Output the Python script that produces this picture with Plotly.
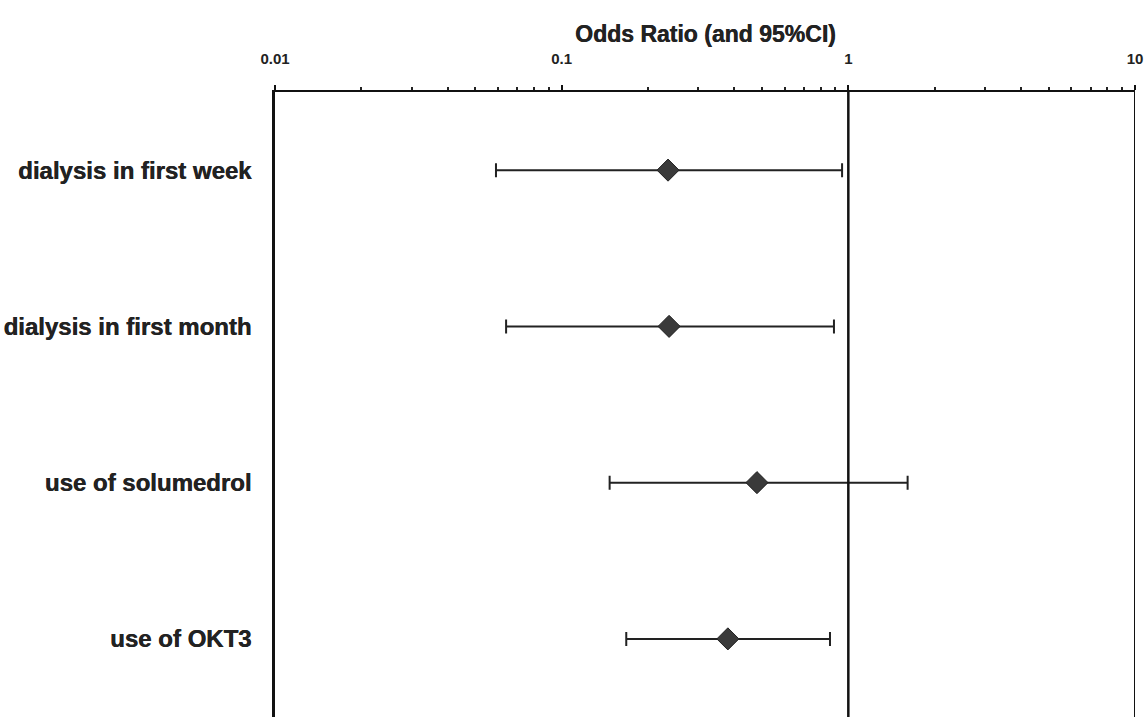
import plotly.graph_objects as go

# Forest plot: odds ratios with 95% confidence intervals
factors = ["dialysis in first week", "dialysis in first month", "use of solumedrol", "use of OKT3"]
odds_ratio = [0.235, 0.237, 0.480, 0.380]
ci_low = [0.059, 0.064, 0.147, 0.168]
ci_high = [0.951, 0.891, 1.61, 0.863]
tick_vals = [0.01, 0.1, 1, 10]
tick_text = ["0.01", "0.1", "1", "10"]

rows = list(range(len(factors), 0, -1))

FONT = "Liberation Sans, Arial, sans-serif"
INK = "#222222"

fig = go.Figure()
fig.add_trace(go.Scatter(
    x=odds_ratio,
    y=rows,
    mode="markers",
    marker=dict(symbol="diamond", size=17, color="#3a3a3a",
                line=dict(color="#222222", width=1)),
    error_x=dict(
        type="data",
        symmetric=False,
        array=[h - o for h, o in zip(ci_high, odds_ratio)],
        arrayminus=[o - l for o, l in zip(odds_ratio, ci_low)],
        color=INK,
        thickness=2,
        width=7,
    ),
    showlegend=False,
    hoverinfo="skip",
))

# Reference line at OR = 1 and right frame edge
fig.add_shape(type="line", xref="x", yref="paper", x0=1, x1=1, y0=0, y1=1,
              line=dict(color="#111111", width=2.5))
fig.add_shape(type="line", xref="x", yref="paper", x0=10, x1=10, y0=0, y1=1,
              line=dict(color="#111111", width=2))

fig.add_annotation(text="<b>Odds Ratio (and 95%CI)</b>", xref="paper", yref="paper",
                   x=0.5, y=1, yshift=58, xanchor="center", yanchor="middle",
                   showarrow=False,
                   font=dict(family=FONT, size=23, color=INK,
                             shadow="0.5px 0 0 #222222"))

fig.update_xaxes(
    type="log",
    range=[-2, 1],
    side="top",
    tickvals=tick_vals,
    ticktext=[f"<b>{t}</b>" for t in tick_text],
    tickfont=dict(family=FONT, size=15, color=INK),
    ticks="outside",
    ticklen=5,
    tickwidth=2,
    tickcolor="#111111",
    ticklabelstandoff=15,
    minor=dict(ticks="outside", ticklen=3, tickwidth=1.5, tickcolor="#222222",
               dtick="D1", showgrid=False),
    showline=True,
    linecolor="#111111",
    linewidth=2,
    showgrid=False,
    zeroline=False,
)
fig.update_yaxes(
    range=[0.5, 4.5],
    tickvals=rows,
    ticktext=[f"<b>{f}</b>" for f in factors],
    tickfont=dict(family=FONT, size=24, color=INK, shadow="0.5px 0 0 #222222"),
    ticks="",
    ticklabelstandoff=16,
    showline=True,
    linecolor="#111111",
    linewidth=2.5,
    showgrid=False,
    zeroline=False,
)

fig.update_layout(
    width=1146,
    height=717,
    margin=dict(l=275, r=11, t=92, b=0),
    paper_bgcolor="white",
    plot_bgcolor="white",
)

fig.write_html("out.html")
